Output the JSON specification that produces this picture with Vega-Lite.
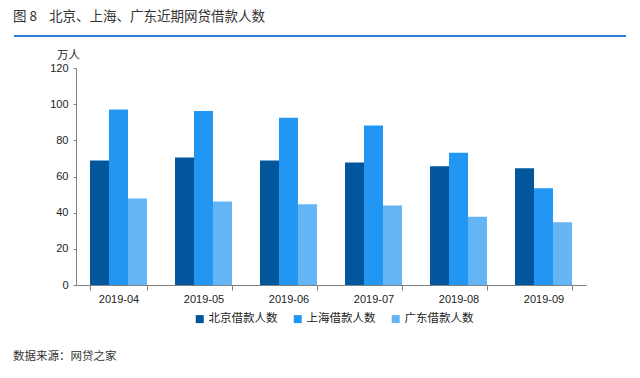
{
  "$schema": "https://vega.github.io/schema/vega-lite/v6.json",
  "padding": {"left": 13, "top": 9, "right": 0, "bottom": 0},
  "background": "white",
  "spacing": 12,
  "resolve": {"scale": {"color": "independent"}, "legend": {"color": "independent"}},
  "title": {
    "text": "数据来源：网贷之家",
    "orient": "bottom",
    "anchor": "start",
    "font": "Noto Sans CJK SC",
    "fontSize": 11.5,
    "fontWeight": "normal",
    "color": "#333333",
    "offset": 26
  },
  "vconcat": [
    {
      "width": 612,
      "height": 1,
      "view": {"stroke": null},
      "title": {
        "text": "图 8\u00a0\u00a0\u00a0\u00a0北京、上海、广东近期网贷借款人数",
        "anchor": "start",
        "font": "Noto Sans CJK SC",
        "fontSize": 13.5,
        "fontWeight": "normal",
        "color": "#333333",
        "offset": 12
      },
      "data": {"values": [{"pos": 0}]},
      "mark": {"type": "rule", "color": "#2F7CD1", "strokeWidth": 2},
      "encoding": {
        "y": {"field": "pos", "type": "quantitative", "scale": {"domain": [0, 1]}, "axis": null}
      }
    },
    {
      "spacing": 0,
      "resolve": {"scale": {"color": "independent"}, "legend": {"color": "independent"}},
      "hconcat": [
        {
          "width": 1,
          "height": 1,
          "view": {"stroke": null},
          "data": {"values": [{"pos": 0}]},
          "mark": {"type": "rule", "opacity": 0},
          "encoding": {
            "y": {"field": "pos", "type": "quantitative", "scale": {"domain": [0, 1]}, "axis": null}
          }
        },
        {
          "width": 510,
          "height": 217,
          "view": {"stroke": null},
          "data": {
            "values": [
              {"month": "2019-04", "city": "北京借款人数", "value": 68.9},
              {"month": "2019-04", "city": "上海借款人数", "value": 97.0},
              {"month": "2019-04", "city": "广东借款人数", "value": 47.8},
              {"month": "2019-05", "city": "北京借款人数", "value": 70.5},
              {"month": "2019-05", "city": "上海借款人数", "value": 96.2},
              {"month": "2019-05", "city": "广东借款人数", "value": 46.2},
              {"month": "2019-06", "city": "北京借款人数", "value": 68.8},
              {"month": "2019-06", "city": "上海借款人数", "value": 92.5},
              {"month": "2019-06", "city": "广东借款人数", "value": 44.6},
              {"month": "2019-07", "city": "北京借款人数", "value": 67.8},
              {"month": "2019-07", "city": "上海借款人数", "value": 88.2},
              {"month": "2019-07", "city": "广东借款人数", "value": 44.0},
              {"month": "2019-08", "city": "北京借款人数", "value": 65.6},
              {"month": "2019-08", "city": "上海借款人数", "value": 73.2},
              {"month": "2019-08", "city": "广东借款人数", "value": 37.8},
              {"month": "2019-09", "city": "北京借款人数", "value": 64.5},
              {"month": "2019-09", "city": "上海借款人数", "value": 53.5},
              {"month": "2019-09", "city": "广东借款人数", "value": 34.7}
            ]
          },
          "mark": {"type": "bar"},
          "encoding": {
            "x": {
              "field": "month",
              "type": "nominal",
              "scale": {"paddingInner": 0.33, "paddingOuter": 0.165},
              "axis": {
                "title": null,
                "labelAngle": 0,
                "tickBand": "extent",
                "tickSize": 5,
                "domainColor": "#808080",
                "tickColor": "#808080",
                "labelFont": "Liberation Sans",
                "labelFontSize": 11,
                "labelColor": "#222222",
                "labelPadding": 3
              }
            },
            "xOffset": {
              "field": "city",
              "type": "nominal",
              "sort": ["北京借款人数", "上海借款人数", "广东借款人数"],
              "scale": {"paddingInner": 0, "paddingOuter": 0}
            },
            "y": {
              "field": "value",
              "type": "quantitative",
              "scale": {"domain": [0, 120], "nice": false},
              "axis": {
                "values": [0, 20, 40, 60, 80, 100, 120],
                "grid": false,
                "tickSize": 3,
                "domainColor": "#808080",
                "tickColor": "#808080",
                "labelFont": "Liberation Sans",
                "labelFontSize": 11,
                "labelColor": "#222222",
                "labelPadding": 5,
                "minExtent": 61,
                "title": "万人",
                "titleAngle": 0,
                "titleAlign": "center",
                "titleBaseline": "bottom",
                "titleX": -8,
                "titleY": -8,
                "titleFont": "Noto Sans CJK SC",
                "titleFontSize": 11.5,
                "titleFontWeight": "normal",
                "titleColor": "#222222"
              }
            },
            "color": {
              "field": "city",
              "type": "nominal",
              "sort": ["北京借款人数", "上海借款人数", "广东借款人数"],
              "scale": {
                "domain": ["北京借款人数", "上海借款人数", "广东借款人数"],
                "range": ["#02569B", "#2196F3", "#64B5F6"]
              },
              "legend": {
                "orient": "none",
                "legendX": 118,
                "legendY": 245,
                "direction": "horizontal",
                "title": null,
                "symbolType": "square",
                "symbolSize": 64,
                "symbolStrokeWidth": 0,
                "labelFont": "Noto Sans CJK SC",
                "labelFontSize": 11.5,
                "labelColor": "#222222",
                "labelOffset": 3,
                "columnPadding": 14
              }
            }
          }
        }
      ]
    }
  ]
}
